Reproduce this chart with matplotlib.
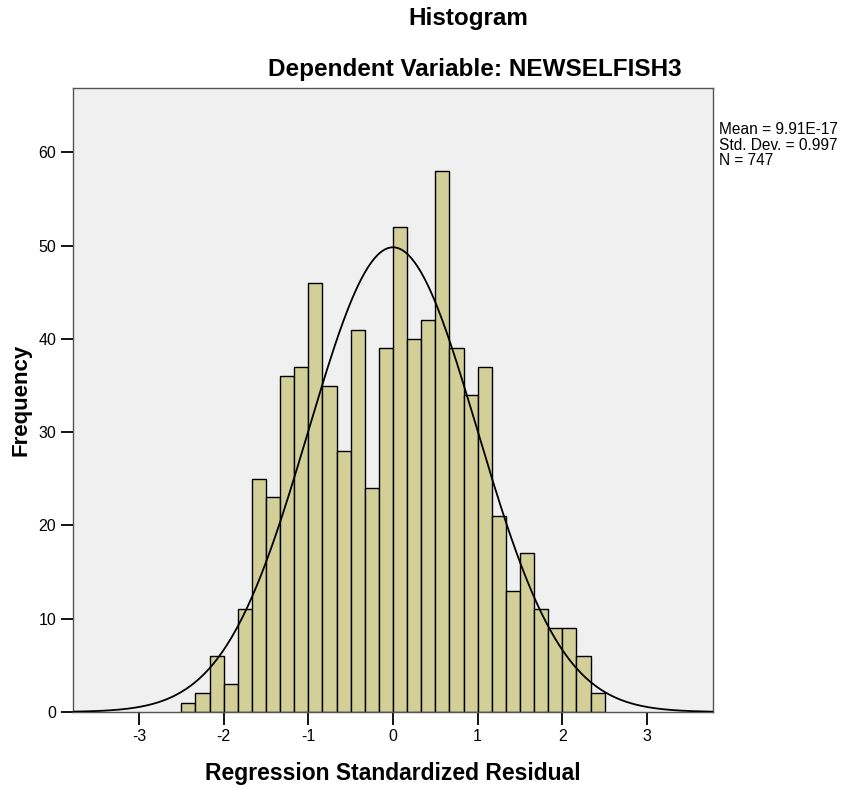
import numpy as np
import matplotlib
matplotlib.use('Agg')
import matplotlib.pyplot as plt

plt.rcParams['font.family'] = ['Liberation Sans', 'DejaVu Sans']

# frequencies of the 30 bins between -2.5 and 2.5
counts = [1, 2, 6, 3, 11, 25, 23, 36, 37, 46, 35, 28, 41, 24, 39,
          52, 40, 42, 58, 39, 34, 37, 21, 13, 17, 11, 9, 9, 6, 2]
bin_edges = np.linspace(-2.5, 2.5, 31)
mean = 9.91e-17
std_dev = 0.997
n_obs = 747
x_ticks = [-3, -2, -1, 0, 1, 2, 3]
y_ticks = [0, 10, 20, 30, 40, 50, 60]

fig = plt.figure(figsize=(8.5, 7.89), dpi=100)
ax = fig.add_axes([0.0859, 0.0976, 0.7529, 0.7909])
ax.set_facecolor('#f0f0f0')

widths = np.diff(bin_edges)
ax.bar(bin_edges[:-1], counts, width=widths, align='edge',
       color='#d3cf98', edgecolor='black', linewidth=1.0, zorder=2)

# normal curve scaled to counts
xs = np.linspace(-3.8, 3.8, 400)
bw = widths[0]
ys = n_obs * bw / (std_dev * np.sqrt(2 * np.pi)) * np.exp(-0.5 * ((xs - mean) / std_dev) ** 2)
ax.plot(xs, ys, color='black', linewidth=1.3, zorder=3)

ax.set_xlim(-3.78, 3.78)
ax.set_ylim(0, 66.9)
ax.set_xticks(x_ticks)
ax.set_xticklabels([str(t) for t in x_ticks])
ax.set_yticks(y_ticks)
ax.set_yticklabels([str(t) for t in y_ticks])
ax.tick_params(direction='out', length=9, width=1.3, labelsize=11.5, colors='black', pad=3)
for s in ax.spines.values():
    s.set_color('#555555')
    s.set_linewidth(1.0)

ax.set_xlabel('Regression Standardized Residual', fontsize=16.5, fontweight='bold', labelpad=13)
ax.set_ylabel('Frequency', fontsize=16, fontweight='bold', labelpad=5)

fig.text(0.551, 0.976, 'Histogram', ha='center', va='center', fontsize=17.5, fontweight='bold')
fig.text(0.559, 0.912, 'Dependent Variable: NEWSELFISH3', ha='center', va='center',
         fontsize=17.5, fontweight='bold')

fig.text(0.846, 0.816, 'Mean = 9.91E-17\nStd. Dev. = 0.997\nN = 747', ha='left', va='center',
         fontsize=11.2, linespacing=1.05)

fig.savefig('out.png', dpi=100)
